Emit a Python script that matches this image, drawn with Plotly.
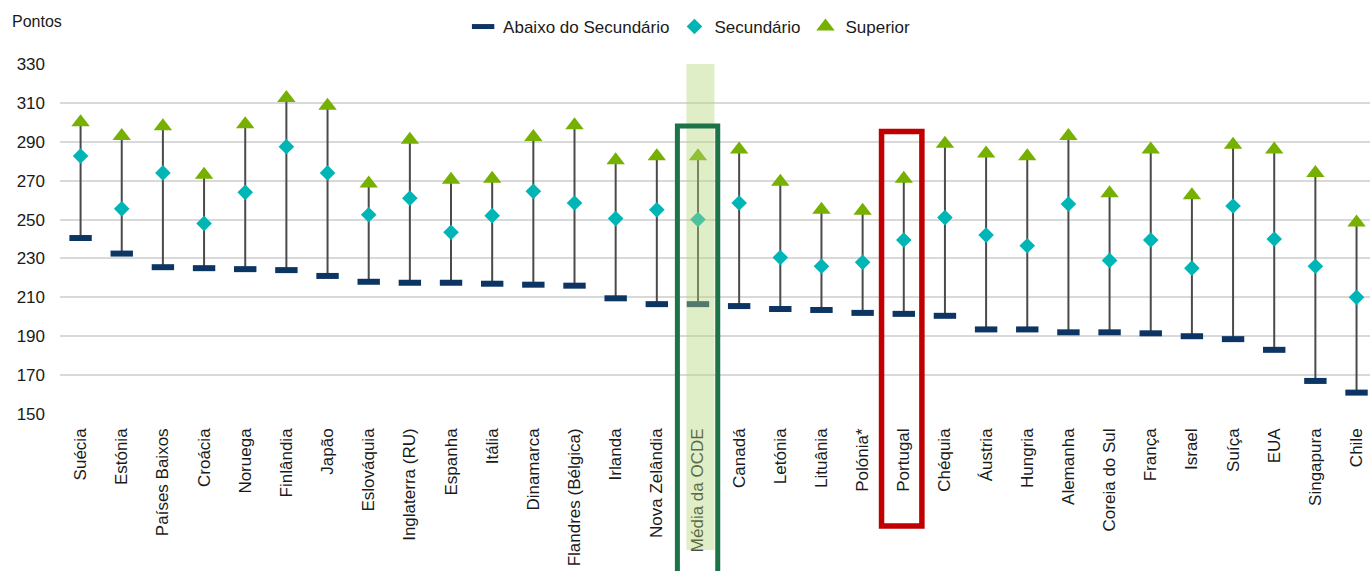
import plotly.graph_objects as go

countries = ["Suécia", "Estónia", "Países Baixos", "Croácia", "Noruega", "Finlândia", "Japão",
             "Eslováquia", "Inglaterra (RU)", "Espanha", "Itália", "Dinamarca", "Flandres (Bélgica)",
             "Irlanda", "Nova Zelândia", "Média da OCDE", "Canadá", "Letónia", "Lituânia", "Polónia*",
             "Portugal", "Chéquia", "Áustria", "Hungria", "Alemanha", "Coreia do Sul", "França",
             "Israel", "Suíça", "EUA", "Singapura", "Chile"]

abaixo = [240.5, 232.5, 225.5, 225, 224.5, 224, 221, 218, 217.5, 217.5, 217, 216.5, 216,
          209.5, 206.5, 206.5, 205.5, 204, 203.5, 202, 201.5, 200.5, 193.5, 193.5, 192,
          192, 191.5, 190, 188.5, 183, 167, 161]
secundario = [282.7, 255.5, 274, 248, 264, 287.5, 274, 252.5, 261, 243.5, 252, 264.5, 258.5,
              250.5, 255, 250, 258.5, 230.5, 226, 228, 239.5, 251, 242, 236.5, 258,
              229, 239.5, 225, 257, 240, 226, 210]
superior = [300, 293, 298, 273, 299, 312.5, 308.5, 268.5, 291, 270.5, 271, 292.5, 298.5,
            280.5, 282.5, 282.5, 286, 269.5, 255, 254.5, 271, 289, 284, 282.5, 293,
            263.5, 286, 262.5, 288.5, 286, 274, 248.5]

y_ticks = [150, 170, 190, 210, 230, 250, 270, 290, 310, 330]

FONT = "Liberation Sans, Arial, sans-serif"
TXT = "#1a1a1a"

# high-low connector lines
lx, ly = [], []
for c, lo, hi in zip(countries, abaixo, superior):
    lx += [c, c, None]
    ly += [lo, hi, None]

fig = go.Figure()
fig.add_trace(go.Scatter(x=lx, y=ly, mode="lines", line=dict(color="#4a4a4a", width=2),
                         showlegend=False, hoverinfo="skip"))
fig.add_trace(go.Scatter(x=countries, y=abaixo, mode="markers", name="Abaixo do Secundário",
                         marker=dict(symbol="line-ew", size=16,
                                     line=dict(width=6, color="#0D3563"), color="#0D3563")))
fig.add_trace(go.Scatter(x=countries, y=secundario, mode="markers", name="Secundário",
                         marker=dict(symbol="diamond", size=12, color="#00B5B5",
                                     line=dict(width=0))))
fig.add_trace(go.Scatter(x=countries, y=superior, mode="markers", name="Superior",
                         marker=dict(symbol="triangle-up", size=16, color="#76B000",
                                     line=dict(width=0))))

spacing = 41.16
plot_w = 1310
x_max = -0.5 + plot_w / spacing

def py(px):
    return (414 - px) / 350.0

shapes = [
    # OECD band
    dict(type="rect", xref="x", yref="paper", x0=14.72, x1=15.40, y0=py(550), y1=1.0,
         fillcolor="rgba(182,215,125,0.42)", line=dict(width=0), layer="above"),
    # green box
    dict(type="rect", xref="x", yref="paper", x0=14.50, x1=15.48, y0=py(600), y1=py(126),
         line=dict(color="#1B7347", width=5), fillcolor="rgba(0,0,0,0)", layer="above"),
    # red box
    dict(type="rect", xref="x", yref="paper", x0=19.46, x1=20.44, y0=py(526), y1=py(131.5),
         line=dict(color="#C00000", width=5.5), fillcolor="rgba(0,0,0,0)", layer="above"),
]

fig.update_layout(
    width=1370, height=571,
    margin=dict(l=60, r=0, t=64, b=157, pad=0),
    paper_bgcolor="white", plot_bgcolor="white",
    font=dict(family=FONT, size=17, color=TXT),
    showlegend=True,
    legend=dict(orientation="h", xref="container", yref="container",
                x=0.503, xanchor="center", y=1 - 27 / 571, yanchor="middle",
                font=dict(size=17, color=TXT), bgcolor="rgba(0,0,0,0)",
                itemwidth=30, tracegroupgap=0),
    xaxis=dict(type="category", categoryorder="array", categoryarray=countries,
               range=[-0.5, x_max], showgrid=False, zeroline=False, showline=False,
               ticks="", tickangle=-90, tickfont=dict(size=17, color=TXT),
               ticklabelstandoff=10),
    yaxis=dict(range=[150, 330], tickvals=y_ticks, showgrid=True, gridcolor="#D9D9D9",
               gridwidth=1.5, zeroline=False, showline=False, ticks="",
               tickfont=dict(size=17, color=TXT), ticklabelstandoff=14),
    shapes=shapes,
    annotations=[dict(text="Pontos", xref="paper", yref="paper", x=(10 - 60) / 1310,
                      xanchor="left", y=py(22), yanchor="middle", showarrow=False,
                      font=dict(size=16, color=TXT))],
)

fig.write_html("out.html")
